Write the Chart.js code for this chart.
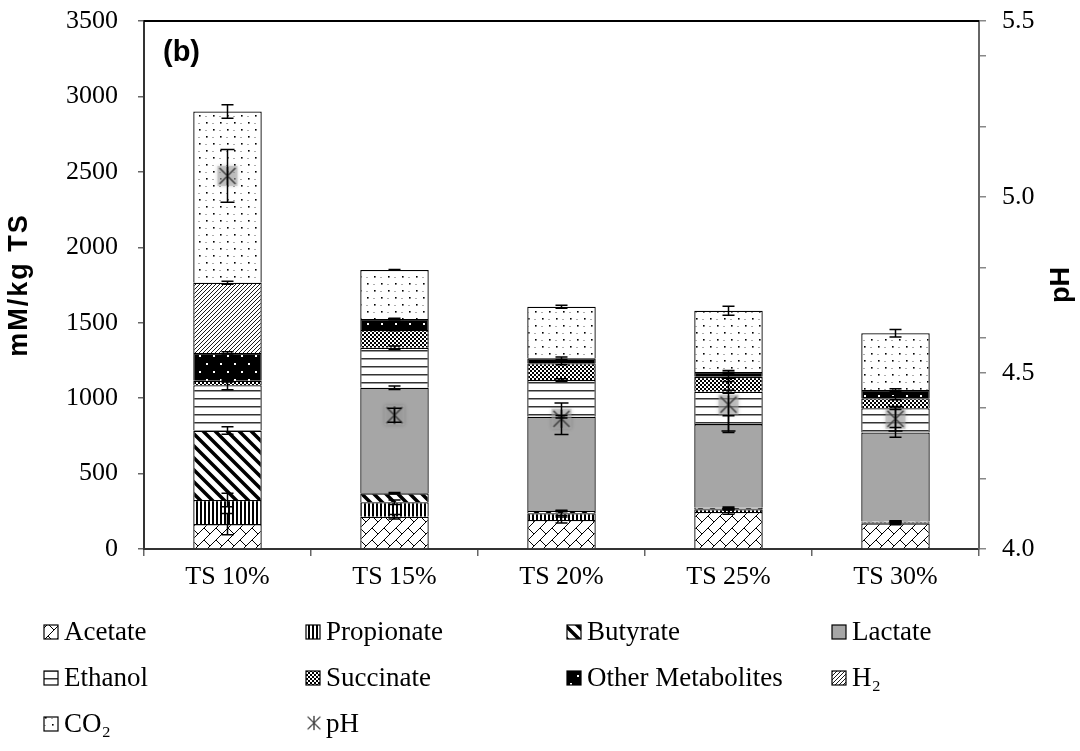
<!DOCTYPE html>
<html>
<head>
<meta charset="utf-8">
<script src="https://cdn.jsdelivr.net/npm/chart.js@4.4.0/dist/chart.umd.min.js"></script>
<style>
  html, body { margin: 0; padding: 0; background: #fff; }
  #wrap { width: 1080px; height: 751px; }
</style>
</head>
<body>
<div id="wrap"><canvas id="myChart"></canvas></div>
<script>
// values (mM/kg TS, stacked bottom -> top)
const categories = ["TS 10%", "TS 15%", "TS 20%", "TS 25%", "TS 30%"];
const acetate    = [165, 214, 192, 245, 170];
const propionate = [160, 96, 45, 18, 8];
const butyrate   = [460, 59, 15, 10, 5];
const lactate    = [0, 700, 625, 555, 590];
const ethanol    = [300, 265, 243, 214, 160];
const succinate  = [30, 118, 111, 99, 66];
const otherMet   = [185, 73, 33, 33, 55];
const h2         = [465, 0, 0, 0, 0];
const co2        = [1135, 325, 342, 405, 376];
const pH         = [5.06, 4.38, 4.37, 4.41, 4.37];

// error bars (+/-)
const acetateErr    = [70, 15, 20, 15, 10];
const propionateErr = [45, 15, 15, 5, 8];
const butyrateErr   = [25, 5, 5, 5, 5];
const lactateErr    = [0, 12, 8, 55, 33];
const ethanolErr    = [30, 12, 8, 10, 8];
const succinateErr  = [8, 5, 10, 30, 10];
const otherErr      = [8, 5, 8, 10, 8];
const h2Err         = [10, 0, 0, 0, 0];
const co2Err        = [45, 3, 10, 30, 25];
const pHErr         = [0.075, 0.02, 0.045, 0.075, 0.035];

const leftTicks = [0, 500, 1000, 1500, 2000, 2500, 3000, 3500];
const rightTicks = [4.0, 4.2, 4.4, 4.5, 4.6, 4.8, 5.0, 5.2, 5.4, 5.5];
const rightLabels = [4.0, 4.5, 5.0, 5.5];

const serif = "'Liberation Serif', 'Times New Roman', serif";
const sans = "'Liberation Sans', Arial, sans-serif";

// ---- fill patterns ----
function makePattern(w, h, draw) {
  const c = document.createElement("canvas");
  c.width = w; c.height = h;
  const g = c.getContext("2d");
  g.fillStyle = "#fff";
  g.fillRect(0, 0, w, h);
  draw(g, w, h);
  return document.createElement("canvas").getContext("2d").createPattern(c, "repeat");
}

const patAcetate = makePattern(12, 12, (g, w, h) => {
  g.strokeStyle = "#000"; g.lineWidth = 1;
  g.beginPath();
  g.moveTo(0, h); g.lineTo(w, 0);
  g.moveTo(-1, 1); g.lineTo(1, -1);
  g.moveTo(w - 1, h + 1); g.lineTo(w + 1, h - 1);
  g.moveTo(0, 0); g.lineTo(w * 0.5, h * 0.5);
  g.stroke();
});
const patPropionate = makePattern(4, 4, (g) => {
  g.fillStyle = "#000"; g.fillRect(0, 0, 2, 4);
});
const patButyrate = makePattern(12, 12, (g, w, h) => {
  g.strokeStyle = "#000"; g.lineWidth = 3.5;
  g.beginPath();
  g.moveTo(0, 0); g.lineTo(w, h);
  g.moveTo(-w, 0); g.lineTo(w, 2 * h);
  g.moveTo(0, -h); g.lineTo(2 * w, h);
  g.stroke();
});
const patLactate = "#a6a6a6";
const patEthanol = makePattern(8, 8, (g) => {
  g.fillStyle = "#333"; g.fillRect(0, 6, 8, 1.5);
});
const patSuccinate = makePattern(4, 4, (g) => {
  g.fillStyle = "#000";
  g.fillRect(0, 0, 2, 2); g.fillRect(2, 2, 2, 2);
});
const patOther = makePattern(14, 16, (g) => {
  g.fillStyle = "#000"; g.fillRect(0, 0, 14, 16);
  g.fillStyle = "#fff"; g.fillRect(3, 3, 2, 2); g.fillRect(10, 11, 2, 2);
});
const patH2 = makePattern(4, 4, (g, w, h) => {
  g.strokeStyle = "#000"; g.lineWidth = 0.9;
  g.beginPath();
  g.moveTo(0, h); g.lineTo(w, 0);
  g.moveTo(-1, 1); g.lineTo(1, -1);
  g.moveTo(w - 1, h + 1); g.lineTo(w + 1, h - 1);
  g.stroke();
});
const patCO2 = makePattern(14, 14, (g) => {
  g.fillStyle = "#000";
  g.fillRect(3, 3, 1.6, 1.6); g.fillRect(10, 10, 1.6, 1.6);
  g.fillStyle = "#999";
  g.fillRect(9, 4, 2, 0.8); g.fillRect(2, 11, 2, 0.8);
});

// pH marker: grey star (x with vertical stroke) on a soft grey glow
function makeMarker(glow) {
  const c = document.createElement("canvas");
  c.width = 30; c.height = 30;
  const g = c.getContext("2d");
  if (glow) {
    g.shadowColor = "rgba(0,0,0,0.35)";
    g.shadowBlur = 4;
    g.fillStyle = "rgba(170,170,170,0.55)";
    g.fillRect(5, 5, 20, 20);
    g.shadowBlur = 0;
  }
  g.strokeStyle = "#404040"; g.lineWidth = 1.6;
  g.beginPath();
  g.moveTo(7, 7); g.lineTo(23, 23);
  g.moveTo(23, 7); g.lineTo(7, 23);
  g.moveTo(15, 6); g.lineTo(15, 24);
  g.stroke();
  return c;
}
const phMarker = makeMarker(true);

const series = [
  { label: "Acetate", data: acetate, err: acetateErr, fill: patAcetate },
  { label: "Propionate", data: propionate, err: propionateErr, fill: patPropionate },
  { label: "Butyrate", data: butyrate, err: butyrateErr, fill: patButyrate },
  { label: "Lactate", data: lactate, err: lactateErr, fill: patLactate },
  { label: "Ethanol", data: ethanol, err: ethanolErr, fill: patEthanol },
  { label: "Succinate", data: succinate, err: succinateErr, fill: patSuccinate },
  { label: "Other Metabolites", data: otherMet, err: otherErr, fill: patOther },
  { label: "H\u2082", data: h2, err: h2Err, fill: patH2 },
  { label: "CO\u2082", data: co2, err: co2Err, fill: patCO2 },
];

const barDatasets = series.map((s) => ({
  type: "bar",
  label: s.label,
  data: s.data,
  backgroundColor: s.fill,
  borderColor: "#000",
  borderWidth: 1.3,
  barPercentage: 0.41,
  categoryPercentage: 1,
  yAxisID: "y",
  order: 1,
}));

function drawCap(ctx, x, y1, y2, half) {
  ctx.beginPath();
  ctx.moveTo(x, y1); ctx.lineTo(x, y2);
  ctx.moveTo(x - half, y1); ctx.lineTo(x + half, y1);
  ctx.moveTo(x - half, y2); ctx.lineTo(x + half, y2);
  ctx.stroke();
}

const errorBars = {
  id: "errorBars",
  afterDatasetsDraw(chart) {
    const ctx = chart.ctx;
    const y = chart.scales.y, y2 = chart.scales.y2, x = chart.scales.x;
    ctx.save();
    ctx.strokeStyle = "#000";
    ctx.lineWidth = 1.5;
    const cum = categories.map(() => 0);
    series.forEach((s) => {
      s.data.forEach((v, j) => {
        cum[j] += v;
        const e = s.err[j];
        if (!e) return;
        const px = x.getPixelForValue(j);
        drawCap(ctx, px, y.getPixelForValue(cum[j] + e), y.getPixelForValue(cum[j] - e), 6);
      });
    });
    pH.forEach((v, j) => {
      const px = x.getPixelForValue(j);
      drawCap(ctx, px, y2.getPixelForValue(v + pHErr[j]), y2.getPixelForValue(v - pHErr[j]), 7);
    });
    ctx.restore();
  },
};

const extras = {
  id: "extras",
  afterDraw(chart) {
    const ctx = chart.ctx;
    const a = chart.chartArea;
    ctx.save();
    // top border of plot area
    ctx.strokeStyle = "#000";
    ctx.lineWidth = 2;
    ctx.beginPath();
    ctx.moveTo(a.left, a.top); ctx.lineTo(a.right, a.top);
    ctx.stroke();

    ctx.fillStyle = "#000";
    ctx.textBaseline = "middle";

    // panel label
    ctx.font = "bold 29px " + sans;
    ctx.textAlign = "left";
    ctx.fillText("(b)", 163, 53);

    // axis titles, both reading bottom to top
    ctx.font = "bold 27px " + sans;
    ctx.textAlign = "center";
    [["mM/kg TS", 20, "2px"], ["pH", 1062, "0px"]].forEach(([t, px, sp]) => {
      ctx.save();
      ctx.letterSpacing = sp;
      ctx.translate(px, 285);
      ctx.rotate(-Math.PI / 2);
      ctx.fillText(t, 0, 0);
      ctx.restore();
    });

    // legend grid
    const cols = [44, 306, 567, 832];
    const rows = [632, 678, 724];
    const items = series.map((s) => ({ label: s.label, fill: s.fill }));
    items.push({ label: "pH", marker: true });
    ctx.font = "27px " + serif;
    ctx.textAlign = "left";
    items.forEach((it, i) => {
      const cx = cols[i % 4], cy = rows[Math.floor(i / 4)];
      if (it.marker) {
        ctx.drawImage(makeMarker(false), cx - 4, cy - 13, 24, 24);
      } else {
        ctx.fillStyle = it.fill;
        ctx.fillRect(cx, cy - 7, 14, 14);
        ctx.strokeStyle = "#000";
        ctx.lineWidth = 1.2;
        ctx.strokeRect(cx, cy - 7, 14, 14);
      }
      ctx.fillStyle = "#000";
      ctx.fillText(it.label, cx + 20, cy + 1);
    });
    ctx.restore();
  },
};

// keep the plot box where the reference has it: no extra room for label overflow
const noOverflow = (s) => { s.paddingTop = 0; s.paddingBottom = 0; };

new Chart(document.getElementById("myChart"), {
  data: {
    labels: categories,
    datasets: [
      ...barDatasets,
      {
        type: "line",
        label: "pH",
        data: pH,
        yAxisID: "y2",
        showLine: false,
        pointStyle: phMarker,
        pointRadius: 12,
        order: 0,
      },
    ],
  },
  options: {
    responsive: true,
    maintainAspectRatio: false,
    animation: false,
    layout: { padding: { top: 21, left: 0, right: 0, bottom: 0 } },
    plugins: {
      legend: { display: false },
      tooltip: { enabled: false },
    },
    scales: {
      x: {
        stacked: true,
        grid: { drawOnChartArea: false, tickLength: 7, color: "#666", lineWidth: 1.5 },
        border: { color: "#333", width: 2 },
        ticks: { color: "#000", font: { family: serif, size: 26 }, padding: 6 },
        afterFit: (s) => { s.height = 202; s.paddingLeft = 0; s.paddingRight = 0; },
      },
      y: {
        stacked: true,
        min: 0,
        max: 3500,
        afterBuildTicks: (s) => { s.ticks = leftTicks.map((v) => ({ value: v })); },
        grid: { drawOnChartArea: false, tickLength: 6, color: "#666", lineWidth: 1.5 },
        border: { color: "#333", width: 2 },
        ticks: {
          color: "#000",
          font: { family: serif, size: 26 },
          padding: 20,
          callback: (v) => String(v),
        },
        afterFit: (s) => { s.width = 144; noOverflow(s); },
      },
      y2: {
        position: "right",
        min: 4,
        max: 5.5,
        afterBuildTicks: (s) => { s.ticks = rightTicks.map((v) => ({ value: v })); },
        grid: { drawOnChartArea: false, tickLength: 7, color: "#888", lineWidth: 1.5 },
        border: { color: "#666", width: 2 },
        ticks: {
          color: "#000",
          font: { family: serif, size: 26 },
          padding: 16,
          callback: (v) => (rightLabels.some((r) => Math.abs(r - v) < 1e-6) ? Number(v).toFixed(1) : ""),
        },
        afterFit: (s) => { s.width = 101; noOverflow(s); },
      },
    },
  },
  plugins: [errorBars, extras],
});
</script>
</body>
</html>
